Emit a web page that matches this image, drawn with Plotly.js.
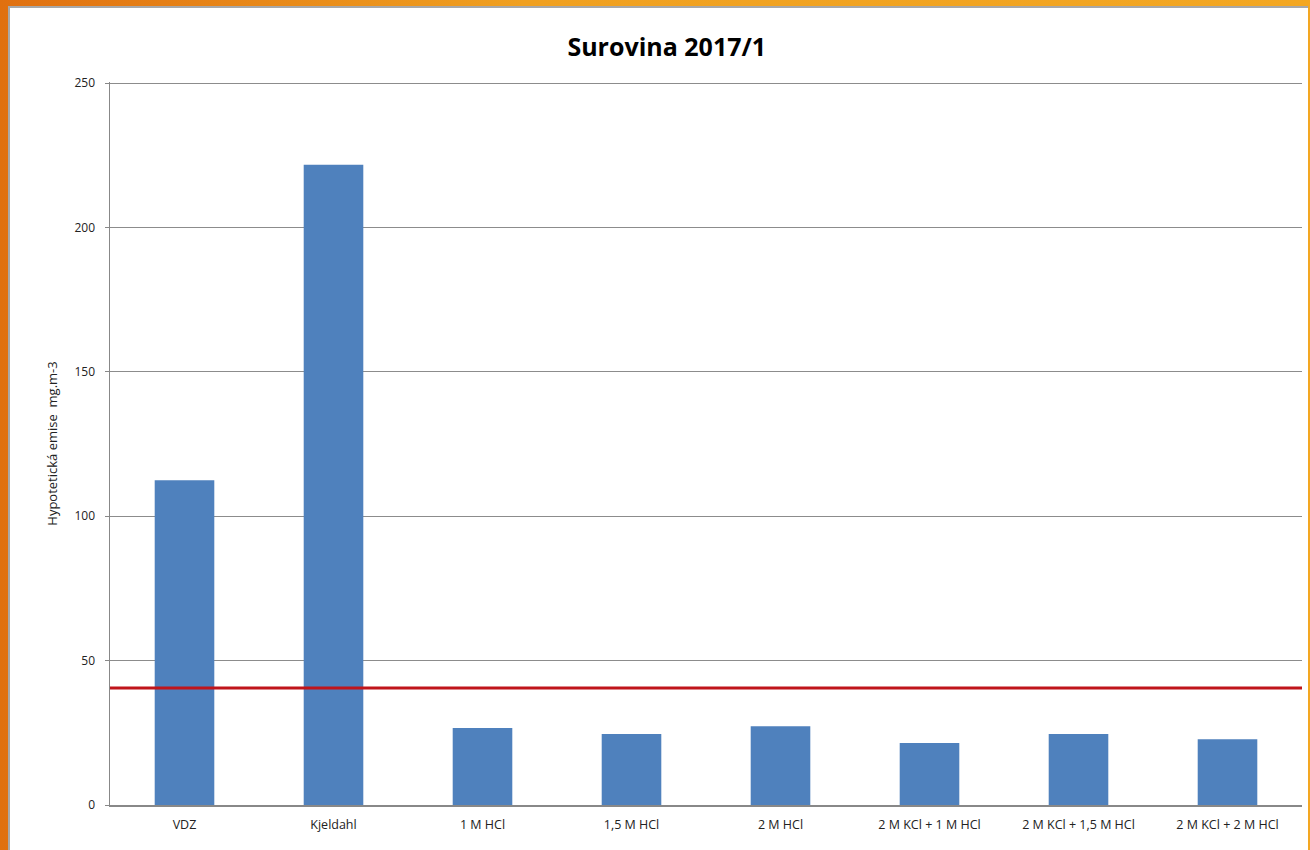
<!DOCTYPE html>
<html><head><meta charset="utf-8">
<script src="https://cdn.plot.ly/plotly-3.0.1.min.js"></script>
<style>
html,body{margin:0;padding:0;width:1310px;height:850px;overflow:hidden;
background:linear-gradient(90deg,#e07010 0%,#f0a020 40%,#f3a722 100%);}
#chart{position:absolute;left:8px;top:6px;width:1300px;height:844px;background:#fff;
box-sizing:border-box;border-left:2px solid #a8a8a8;border-top:2px solid #a8a8a8;}
</style></head><body>
<div id="chart"></div>
<script>
const categories = ["VDZ","Kjeldahl","1 M HCl","1,5 M HCl","2 M HCl","2 M KCl + 1 M HCl","2 M KCl + 1,5 M HCl","2 M KCl + 2 M HCl"];
const emissions = [112.5, 221.7, 26.7, 24.6, 27.3, 21.5, 24.6, 22.8];
const limitValue = [40.5];
const yTicks = [0, 50, 100, 150, 200, 250];

const trace = {
  type: 'bar', x: categories, y: emissions,
  marker: {color: '#4f81bd'}, hoverinfo: 'x+y'
};
const layout = {
  width: 1298, height: 842,
  margin: {l: 100, r: 6, t: 74, b: 45},
  paper_bgcolor: '#fff', plot_bgcolor: '#fff',
  bargap: 0.6, showlegend: false,
  font: {family: 'Open Sans, sans-serif', color: '#222'},
  title: {text: '<b>Surovina 2017/1</b>', font: {size: 25, family: 'Open Sans, sans-serif', color: '#000'},
          x: 0.506, xref: 'container', xanchor: 'center', y: 0.953, yanchor: 'middle'},
  xaxis: {type: 'category', showline: true, linecolor: '#888', linewidth: 1.5,
          ticks: '', tickfont: {size: 12.5}, ticklabelstandoff: 7, showgrid: false, zeroline: false, fixedrange: true},
  yaxis: {range: [0, 250.4], tickvals: yTicks, ticktext: yTicks.map(String),
          showgrid: true, gridcolor: '#8c8c8c', gridwidth: 1,
          showline: true, linecolor: '#888', linewidth: 1.5, ticks: 'outside', ticklen: 4, tickcolor: '#888',
          tickfont: {size: 12}, ticklabelstandoff: 7, zeroline: false, mirror: false,
          title: {text: 'Hypotetická emise  mg.m-3', font: {size: 13}, standoff: 14}},
  shapes: [{type: 'line', xref: 'paper', yref: 'y', x0: 0, x1: 1, y0: limitValue[0], y1: limitValue[0],
            line: {color: '#c0151b', width: 3}}]
};
Plotly.newPlot('chart', [trace], layout, {displayModeBar: false, staticPlot: true});
</script></body></html>
